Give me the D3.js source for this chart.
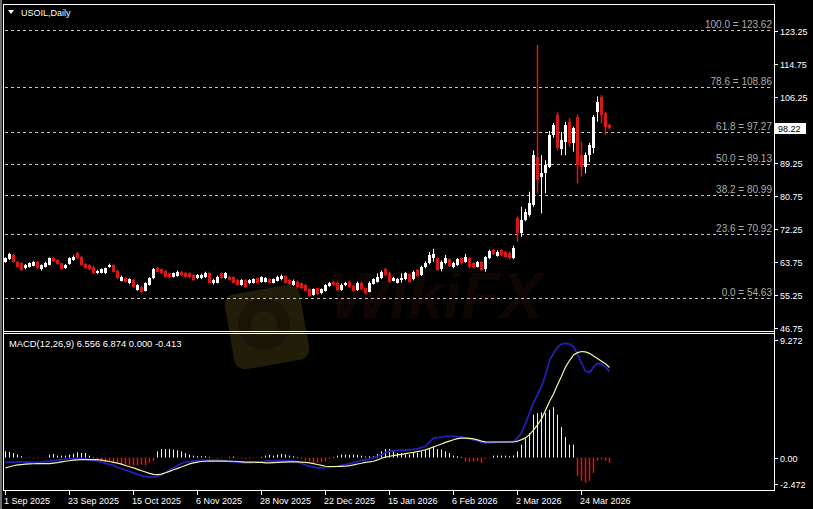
<!DOCTYPE html>
<html><head><meta charset="utf-8">
<script src="https://cdn.jsdelivr.net/npm/d3@7"></script>
<style>body{margin:0;background:#000;} svg{display:block;} text{font-family:"Liberation Sans",Arial,sans-serif;}</style>
</head><body><svg id="c" width="813" height="509"></svg>
<script>
const opens=[63.89,64.50,65.61,63.89,63.47,62.18,62.61,62.87,63.89,61.92,
62.61,63.04,64.75,64.32,63.47,62.18,63.29,64.32,66.04,65.18,
63.29,63.04,62.61,60.89,61.06,60.89,62.44,63.04,61.58,59.01,
59.61,58.32,59.18,56.60,57.46,56.43,57.89,59.61,62.18,61.92,
61.58,60.89,60.03,60.21,61.32,61.06,60.89,60.46,59.61,59.61,
59.86,61.06,58.32,58.49,60.89,59.61,60.03,59.86,59.18,57.89,
59.18,58.32,58.49,59.61,58.75,58.74,59.35,58.49,59.00,59.35,
60.20,59.17,57.89,58.74,58.32,57.89,56.77,55.31,57.03,55.74,
56.43,57.63,58.74,58.49,56.60,57.89,58.74,57.63,56.60,58.49,
57.03,56.17,58.14,58.74,59.60,61.92,61.06,59.00,58.49,59.17,
59.35,60.72,59.35,61.75,60.46,62.43,63.46,64.75,64.75,61.92,
63.46,64.49,62.43,63.03,64.75,63.89,64.75,63.46,62.60,63.89,
61.92,64.75,66.89,65.35,66.89,66.46,66.21,64.75,75.05,71.19,
74.62,75.90,78.48,90.92,85.77,86.62,88.34,96.49,101.64,92.80,
94.78,99.92,94.35,101.21,91.34,88.34,91.34,93.06,102.49,106.35,
102.07,99.06];
const highs=[65.0,66.2,65.9,64.1,63.7,63.3,63.7,64.1,64.1,63.2,
63.9,65.0,65.0,64.5,63.6,63.3,65.0,65.5,66.4,65.4,
63.5,63.2,62.8,61.8,62.1,62.4,63.4,63.2,61.8,60.3,
59.8,59.6,59.4,58.1,57.7,58.6,59.9,62.3,62.5,62.1,
61.8,61.1,61.1,61.6,61.5,61.3,61.1,60.7,60.7,60.8,
61.3,61.3,59.4,60.3,61.1,61.2,60.3,60.1,59.4,59.4,
59.4,59.4,59.6,59.8,60.1,59.9,59.6,59.6,60.3,60.6,
60.4,59.4,59.3,59.0,58.5,58.1,57.0,57.0,57.2,57.0,
58.1,58.7,59.0,58.8,58.3,58.7,59.0,57.9,58.8,58.7,
57.2,58.8,59.6,60.9,61.6,62.3,61.3,60.0,59.7,60.9,
61.2,61.0,61.6,62.0,62.9,64.0,66.4,67.2,65.0,64.2,
65.6,64.7,63.9,64.8,65.0,65.9,65.0,63.7,64.1,64.1,
65.3,67.0,67.2,66.8,67.1,66.7,66.5,68.0,75.5,78.0,
77.5,81.9,92.5,119.65,91.3,90.0,97.5,99.6,102.4,97.3,
99.9,100.8,98.6,101.8,94.8,92.0,94.5,101.6,106.4,106.8,
102.5,99.4];
const lows=[63.6,64.3,63.7,62.4,61.5,61.9,62.4,62.7,62.0,61.6,
62.4,62.9,63.9,63.1,61.7,62.0,63.1,64.1,64.5,62.9,
62.0,61.7,60.7,60.7,60.9,60.7,62.3,61.1,59.4,58.8,
58.5,58.1,57.2,56.4,55.9,56.2,57.7,59.4,61.1,60.7,
59.8,59.6,59.8,60.0,60.3,59.8,59.6,58.9,59.4,59.4,
59.7,58.3,58.0,58.3,59.4,59.4,59.0,58.3,57.7,57.7,
57.2,58.1,58.3,58.3,58.5,58.5,58.3,58.3,58.8,59.1,
58.3,57.9,57.7,57.0,56.8,56.2,54.8,55.1,55.3,55.5,
56.2,57.4,57.7,56.4,56.4,57.6,57.2,56.2,56.4,56.5,
55.5,56.0,58.0,58.5,59.4,60.2,58.5,58.8,58.3,58.5,
59.1,58.5,59.1,60.0,60.2,62.2,63.2,63.9,61.5,61.4,
63.2,62.5,62.2,62.8,63.2,63.6,62.2,62.2,62.4,61.5,
61.3,64.5,65.6,65.2,65.4,64.9,64.5,64.5,69.0,70.3,
74.3,75.5,78.0,81.5,76.3,81.5,88.0,95.8,92.5,91.3,
91.3,93.5,92.2,84.0,85.8,86.6,89.6,91.8,99.9,99.5,
96.5,97.9];
const closes=[64.75,65.87,63.89,62.61,61.75,63.04,63.47,63.89,62.18,63.04,
63.64,64.75,64.15,63.29,61.92,63.04,64.75,65.18,64.75,63.04,
62.18,61.92,60.89,61.58,61.92,62.18,63.04,61.32,59.61,60.03,
58.75,59.35,57.46,57.89,56.17,58.32,59.61,61.92,61.32,60.89,
60.03,59.86,60.89,61.32,60.46,60.03,59.86,59.18,60.46,60.46,
61.06,58.49,59.18,60.03,59.61,60.89,59.18,58.49,57.89,59.18,
57.46,59.18,59.35,58.49,59.86,59.60,58.49,59.35,60.03,60.29,
58.49,58.14,59.00,57.29,57.03,56.43,55.06,56.77,55.57,56.77,
57.89,58.49,57.89,56.60,57.89,58.32,57.46,56.43,58.49,56.77,
55.74,58.49,59.35,60.03,61.32,60.46,58.74,59.60,59.35,59.60,
60.89,58.74,61.32,60.20,62.60,63.63,65.61,65.86,61.75,63.89,
64.75,62.78,63.63,64.49,63.46,65.18,62.43,62.43,63.89,61.75,
65.01,66.72,65.86,66.46,65.61,65.18,64.75,67.32,71.19,74.62,
76.76,78.91,91.34,84.91,86.62,88.77,96.49,99.06,93.06,95.20,
99.06,94.35,98.21,88.77,88.34,91.34,93.92,101.04,105.07,101.64,
98.63,98.22];
const macdLine=[-0.36,-0.35,-0.34,-0.33,-0.33,-0.34,-0.35,-0.36,-0.35,-0.33,
-0.30,-0.28,-0.24,-0.20,-0.16,-0.12,-0.10,-0.08,-0.06,-0.08,
-0.10,-0.15,-0.22,-0.28,-0.35,-0.45,-0.52,-0.60,-0.75,-0.85,
-0.95,-1.05,-1.17,-1.27,-1.38,-1.45,-1.48,-1.49,-1.42,-1.30,
-1.15,-0.95,-0.78,-0.60,-0.45,-0.35,-0.30,-0.25,-0.23,-0.21,
-0.20,-0.20,-0.20,-0.20,-0.22,-0.25,-0.30,-0.33,-0.36,-0.38,
-0.40,-0.40,-0.38,-0.35,-0.32,-0.28,-0.26,-0.25,-0.23,-0.23,
-0.24,-0.26,-0.28,-0.33,-0.45,-0.58,-0.65,-0.72,-0.78,-0.78,
-0.76,-0.74,-0.70,-0.65,-0.60,-0.53,-0.46,-0.38,-0.30,-0.22,
-0.15,-0.10,-0.02,0.10,0.22,0.38,0.48,0.52,0.55,0.57,
0.58,0.60,0.61,0.68,0.76,0.86,1.20,1.49,1.52,1.55,
1.62,1.62,1.62,1.60,1.58,1.50,1.42,1.35,1.30,1.15,
1.12,1.12,1.15,1.16,1.18,1.20,1.22,1.24,1.50,1.87,
2.60,3.40,4.15,4.80,5.42,6.30,7.40,7.95,8.40,8.65,
8.71,8.65,8.46,7.90,7.20,6.60,6.50,6.90,7.19,7.15,
6.90,6.556];
const signalLine=[-0.78,-0.70,-0.62,-0.56,-0.53,-0.50,-0.48,-0.47,-0.46,-0.46,
-0.46,-0.46,-0.42,-0.38,-0.33,-0.28,-0.24,-0.20,-0.17,-0.15,
-0.15,-0.15,-0.15,-0.16,-0.20,-0.25,-0.30,-0.36,-0.42,-0.50,
-0.60,-0.70,-0.78,-0.90,-1.00,-1.10,-1.20,-1.28,-1.30,-1.26,
-1.16,-1.05,-0.93,-0.82,-0.72,-0.60,-0.48,-0.40,-0.34,-0.30,
-0.28,-0.27,-0.27,-0.27,-0.27,-0.27,-0.28,-0.28,-0.30,-0.32,
-0.34,-0.35,-0.35,-0.36,-0.37,-0.40,-0.40,-0.38,-0.36,-0.35,
-0.34,-0.33,-0.33,-0.33,-0.34,-0.37,-0.40,-0.46,-0.53,-0.60,
-0.66,-0.68,-0.68,-0.68,-0.67,-0.66,-0.62,-0.56,-0.49,-0.43,
-0.37,-0.32,-0.28,-0.18,-0.05,0.03,0.10,0.15,0.20,0.24,
0.30,0.35,0.40,0.46,0.52,0.60,0.70,0.81,0.92,1.04,
1.16,1.26,1.36,1.45,1.49,1.49,1.47,1.42,1.35,1.25,
1.20,1.19,1.19,1.19,1.19,1.19,1.19,1.19,1.25,1.37,
1.50,1.75,2.10,2.50,2.95,3.60,4.28,4.85,5.55,6.20,
6.90,7.40,7.83,8.00,8.09,8.06,7.95,7.75,7.55,7.35,
7.15,6.874];
const histValues=[0.48,0.43,0.35,0.23,0.10,-0.05,-0.05,-0.08,-0.05,-0.05,
-0.03,0.23,0.28,0.15,0.15,0.15,0.23,0.30,0.40,0.35,
0.35,0.15,0.05,-0.20,-0.35,-0.35,-0.28,-0.35,-0.40,-0.53,
-0.53,-0.60,-0.60,-0.60,-0.53,-0.60,-0.40,-0.28,0.48,0.66,
0.66,0.66,0.61,0.56,0.48,0.35,0.23,0.15,0.10,0.10,
0.10,0.05,-0.05,-0.08,-0.05,-0.03,0.05,0.08,-0.05,-0.08,
-0.10,-0.08,-0.05,-0.03,0.05,0.15,0.20,0.15,0.23,0.28,
0.23,0.15,0.10,0.05,-0.10,-0.20,-0.28,-0.40,-0.40,-0.35,
-0.28,-0.10,0.05,0.15,0.23,0.23,0.20,0.23,0.20,0.15,
0.08,0.10,0.10,0.28,0.48,0.66,0.66,0.48,0.35,0.35,
0.23,0.23,0.35,0.35,0.48,0.61,0.66,0.86,0.66,0.61,
0.48,0.35,0.15,0.10,0.05,-0.30,-0.35,-0.30,-0.25,-0.40,
-0.10,-0.05,0.15,0.15,0.15,0.15,0.10,0.15,0.48,0.99,
1.44,1.87,3.27,3.40,3.45,3.40,3.65,3.85,3.27,2.33,
1.57,0.99,0.99,-1.42,-1.77,-1.92,-1.77,-1.16,-0.25,-0.13,
-0.25,-0.41];
const tickBars=[0,16,32,48,64,80,96,112,128,144];
const tickLabels=["1 Sep 2025","23 Sep 2025","15 Oct 2025","6 Nov 2025","28 Nov 2025","22 Dec 2025","15 Jan 2026","6 Feb 2026","2 Mar 2026","24 Mar 2026"];
const priceTicks=[123.25,114.75,106.25,89.25,80.75,72.25,63.75,55.25,46.75];
const fibLevels=["100.0","78.6","61.8","50.0","38.2","23.6","0.0"];
const fibPrices=[123.62,108.86,97.27,89.13,80.99,70.92,54.63];
const lastPrice=98.22;
const macdTicks=[9.272,0.00,-2.472];
const macdTickText=["9.272","0.00","-2.472"];
const macdHeader="MACD(12,26,9) 6.556 6.874 0.000 -0.413";
const title="USOIL,Daily";
const watermarkText="WikiFX";

const W=813,H=509;
const svg=d3.select("#c");
svg.append("rect").attr("width",W).attr("height",H).attr("fill","#000");
svg.append("rect").attr("x",0).attr("y",0).attr("width",2).attr("height",H).attr("fill","#6e6e6e");

const x=d3.scaleLinear().domain([0,192]).range([5,773]);
const y=d3.scaleLinear().domain([46.75,123.25]).range([328.3,31]);
const ym=d3.scaleLinear().domain([-2.472,9.272]).range([490,336]);
const px=v=>Math.round(v);
const bull="#ffffff", bear="#d81818", bearThin="#e01414";

// faint watermark
const wm=svg.append("g");
wm.append("rect").attr("x",-38).attr("y",-38).attr("width",76).attr("height",76).attr("rx",11)
  .attr("transform","translate(267,327) rotate(-10)").attr("fill","#221d08");
wm.append("circle").attr("cx",264).attr("cy",324).attr("r",26).attr("fill","#181406");
wm.append("circle").attr("cx",264).attr("cy",324).attr("r",13).attr("fill","#221d08");
wm.append("text").attr("x",330).attr("y",318).attr("font-size",64).attr("font-weight","bold")
  .attr("font-style","italic").attr("fill","#0f0604").text(watermarkText);

// frame
const frame=svg.append("g").attr("stroke","#fff").attr("stroke-width",1).attr("shape-rendering","crispEdges");
frame.append("line").attr("x1",3.5).attr("x2",3.5).attr("y1",4).attr("y2",491);
frame.append("line").attr("x1",3).attr("x2",775).attr("y1",4.5).attr("y2",4.5);
frame.append("line").attr("x1",3).attr("x2",775).attr("y1",331.5).attr("y2",331.5);
frame.append("line").attr("x1",3).attr("x2",775).attr("y1",333.5).attr("y2",333.5);
frame.append("line").attr("x1",3).attr("x2",775).attr("y1",490.5).attr("y2",490.5);
frame.append("line").attr("x1",774.5).attr("x2",774.5).attr("y1",4).attr("y2",491);

// fib lines
const fib=svg.append("g");
fibPrices.forEach((p,k)=>{
  const yy=px(y(p))+0.5;
  fib.append("line").attr("x1",5).attr("x2",773).attr("y1",yy).attr("y2",yy)
    .attr("stroke","#c4c4c4").attr("stroke-dasharray","3,3").attr("shape-rendering","crispEdges");
  fib.append("text").attr("x",772).attr("y",yy-3).attr("text-anchor","end")
    .attr("font-size",10).attr("fill","#acacac").text(fibLevels[k]+" = "+p.toFixed(2));
});

// candles
const cg=svg.append("g");
closes.forEach((c,i)=>{
  const o=opens[i], up=c>=o, col=up?bull:bear, cx=px(x(i));
  cg.append("rect").attr("x",up?cx:cx-0.25).attr("width",up?1:1.5)
    .attr("y",y(highs[i])).attr("height",y(lows[i])-y(highs[i]))
    .attr("fill",up?bull:bearThin);
  const top=y(Math.max(o,c)), bot=y(Math.min(o,c));
  cg.append("rect").attr("x",cx-1).attr("width",3).attr("y",px(top)).attr("height",Math.max(1,px(bot)-px(top))).attr("fill",col);
});

// right price axis
const ax=svg.append("g");
priceTicks.forEach(p=>{
  const yy=px(y(p))+0.5;
  ax.append("line").attr("x1",774).attr("x2",778).attr("y1",yy).attr("y2",yy).attr("stroke","#fff").attr("shape-rendering","crispEdges");
  ax.append("text").attr("x",780).attr("y",yy).attr("dy","0.35em").attr("font-size",9).attr("fill","#fff").text(p.toFixed(2));
});
const ly=y(lastPrice);
ax.append("rect").attr("x",775).attr("y",px(ly)-5).attr("width",31).attr("height",11).attr("fill","#fff");
ax.append("text").attr("x",778).attr("y",px(ly)+0.5).attr("dy","0.35em").attr("font-size",9).attr("fill","#000").text(lastPrice.toFixed(2));

// title
svg.append("path").attr("d","M8,10 L14,10 L11,14 Z").attr("fill","#fff");
svg.append("text").attr("x",21).attr("y",15.5).attr("font-size",9).attr("fill","#fff").text(title);

// MACD
const mg=svg.append("g");
histValues.forEach((v,i)=>{
  const cx=px(x(i));
  const y0=ym(0), y1=ym(v);
  mg.append("rect").attr("x",v>=0?cx:cx-0.25).attr("width",v>=0?1:1.5)
    .attr("y",Math.min(y0,y1)).attr("height",Math.abs(y1-y0))
    .attr("fill",v>=0?"#f0f0f0":bearThin);
});
const line=d3.line().x((d,i)=>x(i)+0.5).y(d=>ym(d));
mg.append("path").datum(macdLine).attr("d",line).attr("fill","none").attr("stroke","#2020b8").attr("stroke-width",1.8);
mg.append("path").datum(signalLine).attr("d",line).attr("fill","none").attr("stroke","#f4f4a8").attr("stroke-width",1.2);
mg.append("text").attr("x",9).attr("y",347).attr("font-size",9.4).attr("fill","#fff").text(macdHeader);

macdTicks.forEach((v,k)=>{
  const yy=px(ym(v))+0.5;
  const ty = k===0? yy+4 : (k===2? yy-6 : yy);
  ax.append("line").attr("x1",774).attr("x2",778).attr("y1",ty).attr("y2",ty).attr("stroke","#fff").attr("shape-rendering","crispEdges");
  ax.append("text").attr("x",780).attr("y",ty).attr("dy","0.35em").attr("font-size",9).attr("fill","#fff").text(macdTickText[k]);
});

// x axis
tickBars.forEach((b,k)=>{
  const xx=px(x(b))+0.5;
  svg.append("line").attr("x1",xx).attr("x2",xx).attr("y1",491).attr("y2",495).attr("stroke","#fff").attr("shape-rendering","crispEdges");
  svg.append("text").attr("x",xx-1.5).attr("y",504).attr("font-size",9).attr("fill","#fff").text(tickLabels[k]);
});
</script></body></html>
